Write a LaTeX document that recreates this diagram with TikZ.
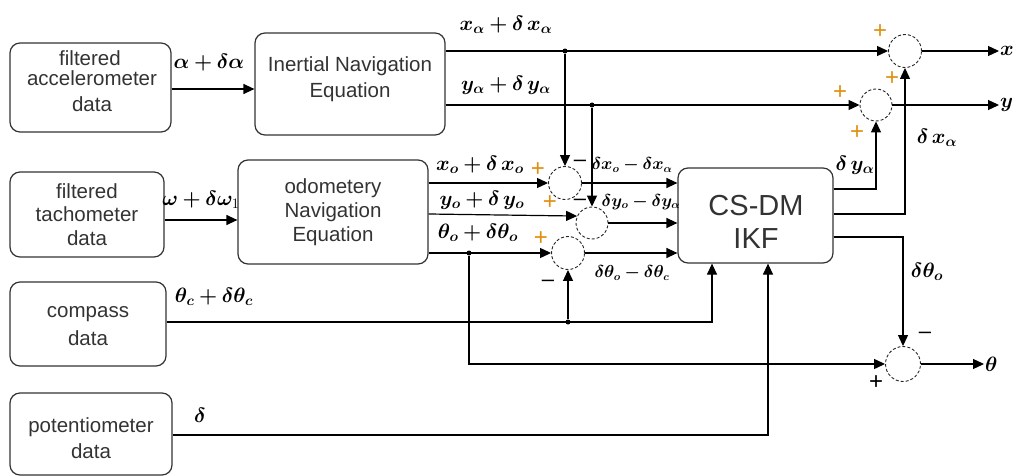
\documentclass[tikz,border=0pt]{standalone}
\usepackage{bm}
\usepackage{fontspec}
\newfontfamily\arialf{Liberation Sans}
\usetikzlibrary{arrows.meta}
\definecolor{txtgray}{HTML}{333333}
\definecolor{plusor}{HTML}{E09010}
\begin{document}
\begin{tikzpicture}[x=1pt,y=-1pt,
  box/.style={draw=black!80, line width=1.2pt, rounded corners=10pt, inner sep=0pt},
  boxtxt/.style={font=\arialf\fontsize{20.5}{20.5}\selectfont, text=txtgray, anchor=base, inner sep=0pt},
  bigtxt/.style={font=\arialf\fontsize{29}{29}\selectfont, text=txtgray, anchor=base, inner sep=0pt},
  sumj/.style={circle, draw=black!85, densely dashed, line width=0.9pt, minimum size=33pt, inner sep=0pt},
  conn/.style={line width=1.2pt, draw=black},
  arr/.style={conn, -{Triangle[length=11pt,width=10pt]}},
  mlab/.style={inner sep=0pt, font=\fontsize{20}{20}\selectfont},
  slab/.style={inner sep=0pt, font=\fontsize{16}{16}\selectfont},
  outlab/.style={inner sep=1pt, anchor=west, font=\fontsize{20}{20}\selectfont},
  dot/.style={circle, fill=black, minimum size=5pt, inner sep=0pt},
  pl/.style={inner sep=0pt, text=plusor, font=\arialf\fontsize{24}{24}\selectfont},
  mn/.style={inner sep=0pt, font=\arialf\fontsize{22}{22}\selectfont}
]
\useasboundingbox (0,0) rectangle (1017,476);

% boxes
\node[box, minimum width=161pt, minimum height=89pt] (acc) at (90.5,87.5) {};
\node[box, minimum width=190pt, minimum height=102pt] (ine) at (350,84) {};
\node[box, minimum width=154pt, minimum height=85pt] (tach) at (87,214.5) {};
\node[box, minimum width=190pt, minimum height=104pt] (odo) at (333,212) {};
\node[box, minimum width=156pt, minimum height=84pt] (comp) at (88,324) {};
\node[box, minimum width=162pt, minimum height=82pt] (pot) at (91,434) {};
\node[box, minimum width=155pt, minimum height=95pt] (ikf) at (755.5,215.5) {};

% box texts
\node[boxtxt] at (90,66) {filtered};
\node[boxtxt] at (92,86) {accelerometer};
\node[boxtxt] at (92,112) {data};
\node[boxtxt] at (350,72) {Inertial Navigation};
\node[boxtxt] at (350,98) {Equation};
\node[boxtxt] at (87,198) {filtered};
\node[boxtxt] at (87,221) {tachometer};
\node[boxtxt] at (87,245) {data};
\node[boxtxt] at (333,193) {odometery};
\node[boxtxt] at (333,217) {Navigation};
\node[boxtxt] at (333,241) {Equation};
\node[boxtxt] at (88,317) {compass};
\node[boxtxt] at (88,345) {data};
\node[boxtxt] at (91,432) {potentiometer};
\node[boxtxt] at (91,458) {data};
\node[bigtxt] at (756,215) {CS-DM};
\node[bigtxt] at (756,248) {IKF};

% summing junctions
\node[sumj] (sx) at (905,51) {};
\node[sumj, minimum size=32pt] (sy) at (876,105) {};
\node[sumj] (sx1) at (565,183) {};
\node[sumj, minimum size=32pt] (sy1) at (592,223) {};
\node[sumj] (st1) at (568,253) {};
\node[sumj, minimum size=35pt] (st) at (903,364) {};

% branch points
\node[dot] (xa) at (565,51) {};
\node[dot] (ya) at (592,105) {};
\node[dot] (to) at (469,253) {};
\node[dot] (tc) at (568,322) {};

% output labels
\node[outlab] (xout) at (999,51) {$\bm{x}$};
\node[outlab] (yout) at (999,105) {$\bm{y}$};
\node[outlab] (thout) at (984,364) {$\bm{\theta}$};

% connectors
\draw[arr] (acc.east |- 0,89) -- (ine.west |- 0,89);
\draw[arr] (tach.east |- 0,220) -- (odo.west |- 0,220);
\draw[arr] (ine.east |- sx.west) -- (sx.west);
\draw[arr] (ine.east |- sy.west) -- (sy.west);
\draw[arr] (xa) -- (sx1.north);
\draw[arr] (ya) -- (sy1.north);
\draw[arr] (sx.east) -- (xout.west);
\draw[arr] (sy.east) -- (yout.west);
\draw[arr] (odo.east |- sx1.west) -- (sx1.west);
\draw[arr] (odo.east |- 0,214) -- (sy1.155);
\draw[arr] (odo.east |- st1.west) -- (st1.west);
\draw[arr] (to) |- (st.west);
\draw[arr] (comp.east |- tc) -| (712,0 |- ikf.south);
\draw[arr] (tc) -- (st1.south);
\draw[arr] (pot.east |- 0,435) -| (768,0 |- ikf.south);
\draw[arr] (sx1.east) -- (ikf.west |- sx1.east);
\draw[arr] (sy1.east) -- (ikf.west |- sy1.east);
\draw[arr] (st1.east) -- (ikf.west |- st1.east);
\draw[arr] (ikf.east |- 0,189) -| (sy.south);
\draw[arr] (ikf.east |- 0,214) -| (sx.south);
\draw[arr] (ikf.east |- 0,237) -| (st.north);
\draw[arr] (st.east) -- (thout.west);

% signal labels
\node[mlab] at (209,63) {$\bm{\alpha+\delta\alpha}$};
\node[mlab] at (506,25) {$\bm{x_\alpha+\delta\, x_\alpha}$};
\node[mlab] at (506,85) {$\bm{y_\alpha+\delta\, y_\alpha}$};
\node[mlab] at (201,200) {$\bm{\omega+\delta\omega}_1$};
\node[mlab] at (480,165) {$\bm{x_o+\delta\, x_o}$};
\node[mlab] at (482,200) {$\bm{y_o+\delta\, y_o}$};
\node[mlab] at (478,233) {$\bm{\theta_o+\delta\theta_o}$};
\node[mlab] at (214,297) {$\bm{\theta_c+\delta\theta_c}$};
\node[mlab] at (200,415) {$\bm{\delta}$};
\node[slab] at (632,165) {$\bm{\delta x_o-\delta x_\alpha}$};
\node[slab] at (641,202) {$\bm{\delta y_o-\delta y_\alpha}$};
\node[slab] at (632,273) {$\bm{\delta\theta_o-\delta\theta_c}$};
\node[mlab] at (855,165) {$\bm{\delta\, y_\alpha}$};
\node[mlab] at (937,138) {$\bm{\delta\, x_\alpha}$};
\node[mlab] at (927,272) {$\bm{\delta\theta_o}$};

% signs
\node[pl] at (880,32) {+};
\node[pl] at (892,79) {+};
\node[pl] at (840,93) {+};
\node[pl] at (857,133) {+};
\node[pl] at (538,170) {+};
\node[mn] at (580,163) {–};
\node[pl] at (550,203) {+};
\node[mn] at (580,202) {–};
\node[pl] at (541,239) {+};
\node[mn] at (548,283) {–};
\node[mn, font=\arialf\fontsize{24}{24}\selectfont] at (876,383) {+};
\node[mn] at (925,335) {–};
\end{tikzpicture}
\end{document}
